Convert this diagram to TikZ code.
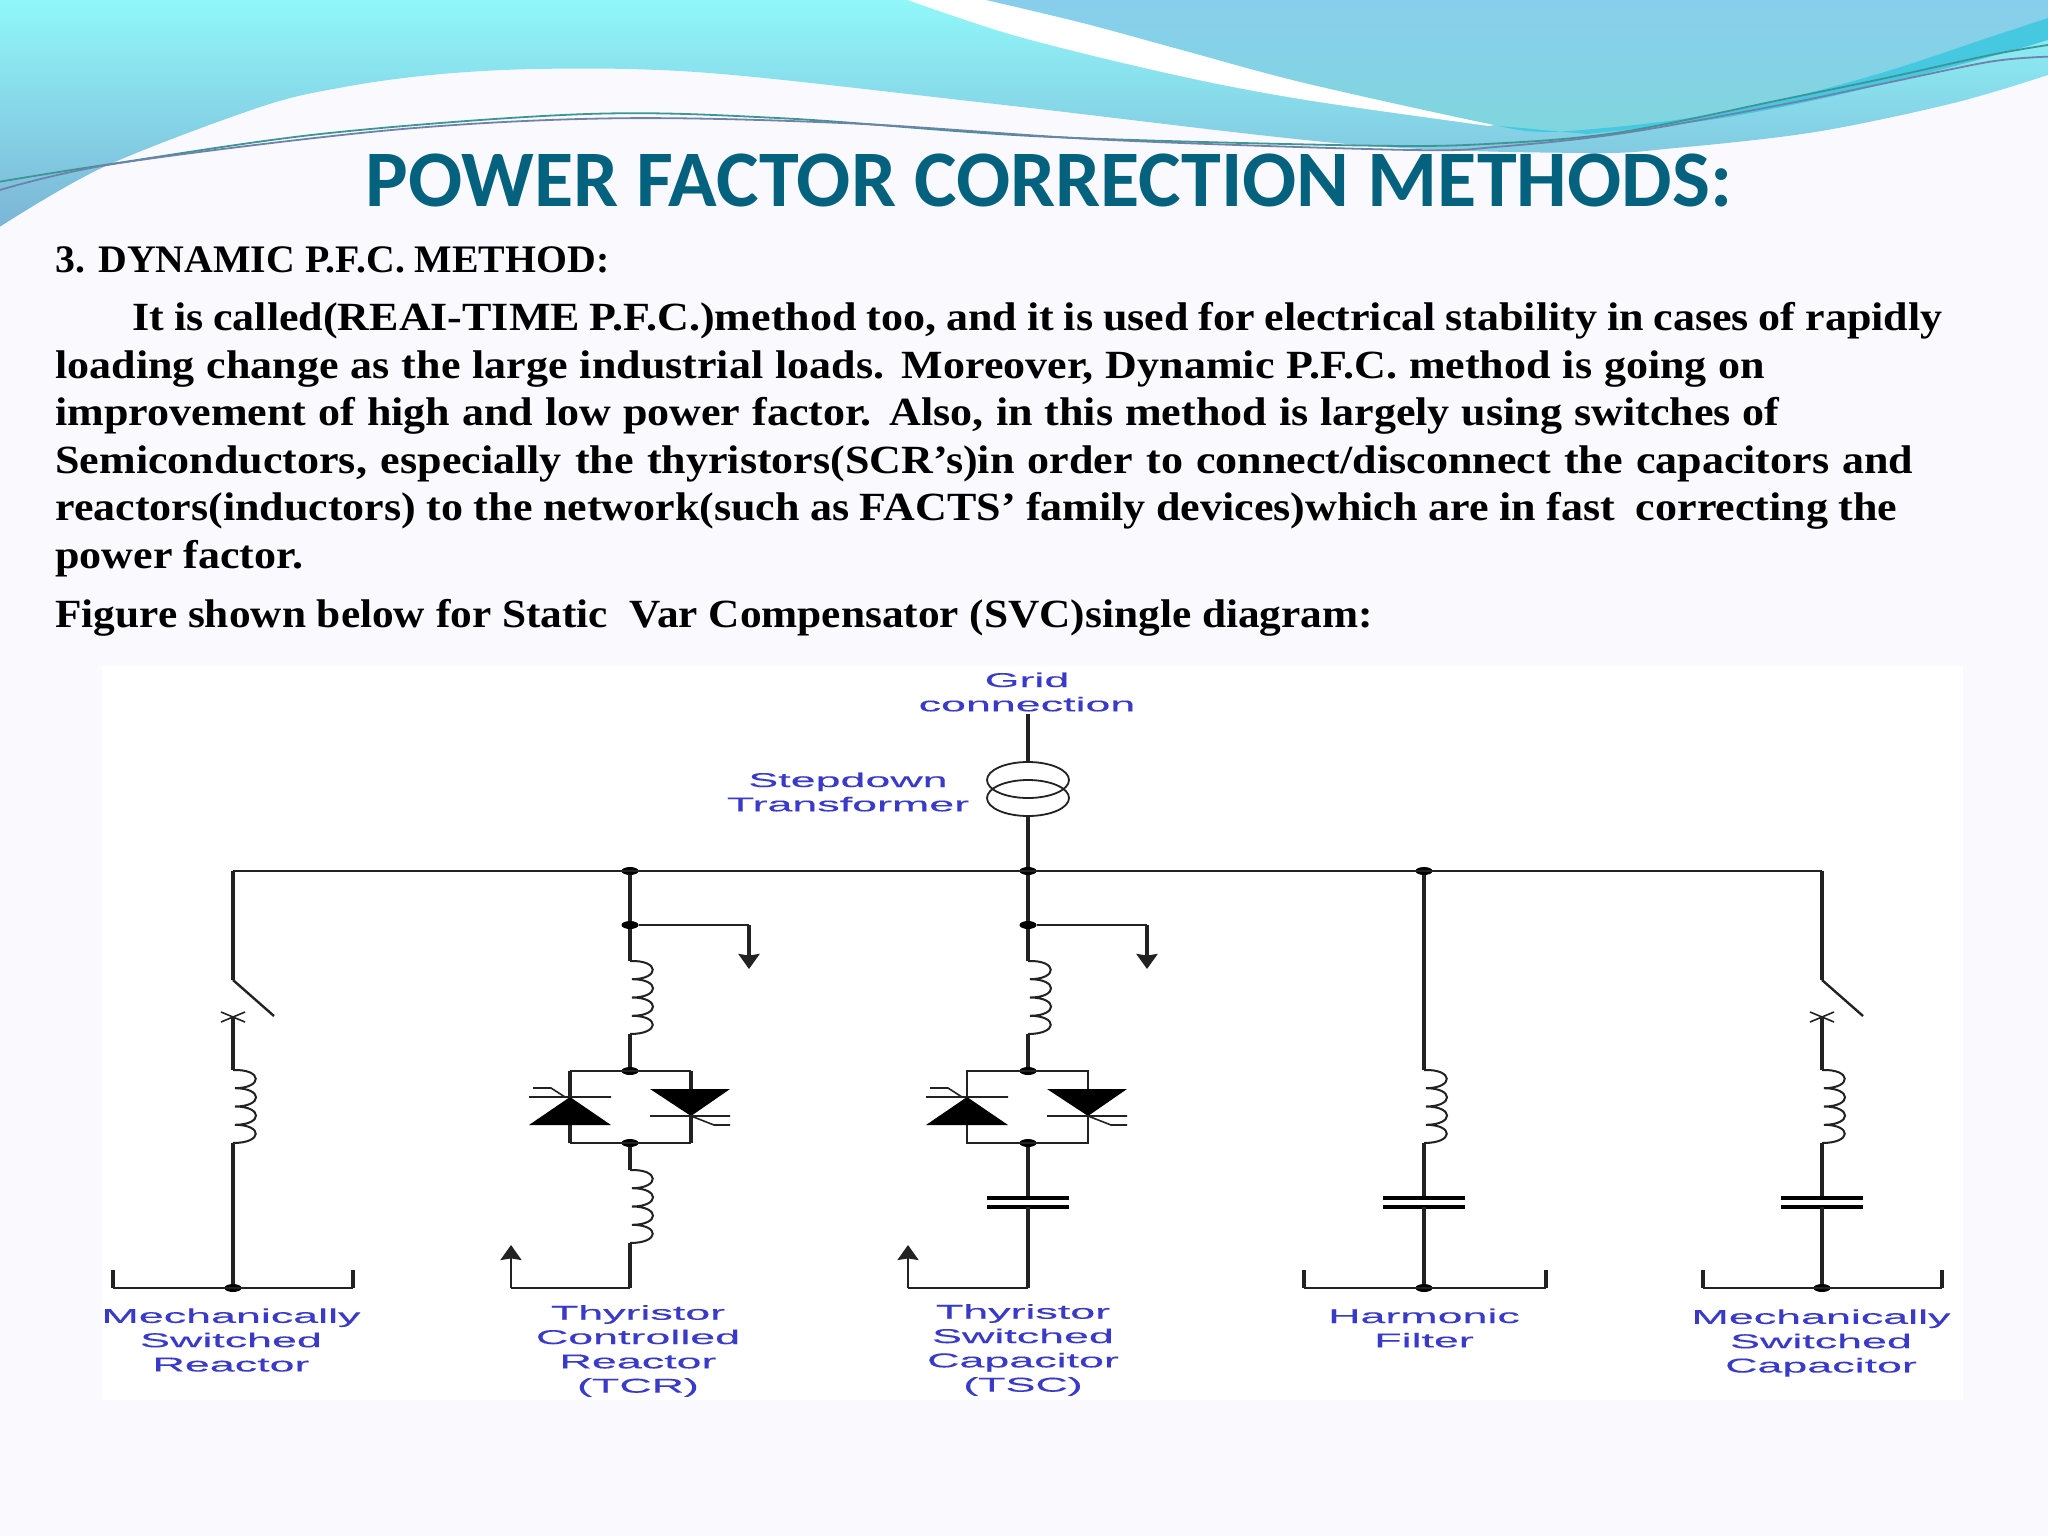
\documentclass[tikz,border=0pt]{standalone}
\usepackage{fontspec}
\usetikzlibrary{shapes.geometric,arrows.meta}
\setmainfont{Liberation Serif}
\newfontfamily\headfont[FakeStretch=1.02]{Liberation Serif}
\newfontfamily\bodyfont[FakeStretch=1.10]{Liberation Serif}
\newfontfamily\figfont[FakeStretch=1.083]{Liberation Serif}
\newfontfamily\titlefont{Carlito}
\newfontfamily\labfont[FakeStretch=2.24,FakeBold=0.3]{Liberation Sans}
\definecolor{pagebg}{HTML}{FAFAFE}
\definecolor{titleblue}{HTML}{05627F}
\definecolor{labblue}{HTML}{3A3AC8}
\definecolor{wire}{HTML}{222222}
\definecolor{cyantop}{RGB}{144,247,249}
\definecolor{cyanbot}{RGB}{124,181,214}
\definecolor{bluetop}{RGB}{136,206,236}
\definecolor{bluebot}{RGB}{128,214,222}
\definecolor{ribbon}{RGB}{70,200,224}
\definecolor{strandA}{RGB}{60,150,150}
\definecolor{strandB}{RGB}{110,130,170}
\tikzset{
  x=0.5pt,y=-0.5pt,
  thick wire/.style={draw=wire,line width=1.9pt},
  thin wire/.style={draw=wire,line width=1.2pt},
  tick wire/.style={draw=wire,line width=1.7pt},
  dot/.style={ellipse,fill=black,inner sep=0pt,minimum width=8.5pt,minimum height=4pt},
  lab/.style={font=\labfont\fontsize{10}{12.15}\selectfont,text=labblue,align=center,inner sep=0pt},
  plate/.style={draw=black,line width=2.4pt},
  arrowtip/.style={-{Stealth[length=7.5pt,width=10.5pt,inset=0.8pt]}},
  trafo/.style={ellipse,draw=wire,line width=0.9pt,inner sep=0pt,minimum width=41pt,minimum height=18pt},
  coil/.pic={\draw[draw=wire,line width=1pt] (0,0) .. controls (30,-1) and (30,18) .. (2,18.2)
      .. controls (30,18.2) and (30,36.4) .. (2,36.5)
      .. controls (30,36.5) and (30,54.7) .. (2,54.8)
      .. controls (30,54.8) and (30,73) .. (0,73);},
  thyup/.pic={\fill[black] (0,0) -- (-41,28) -- (41,28) -- cycle;
      \draw[draw=wire,line width=0.8pt] (-41,0) -- (41,0) (-37,-9) -- (-19,-9) -- (-5,0);},
  thydn/.pic={\fill[black] (0,0) -- (-41,-27) -- (39,-27) -- cycle;
      \draw[draw=wire,line width=0.8pt] (-41,0) -- (39,0) (0,0) -- (23,9) -- (39,9);},
  cross/.pic={\draw[draw=wire,line width=0.8pt] (-12,-5) -- (12,5) (-12,5) -- (12,-5);},
}
\begin{document}
\begin{tikzpicture}
\useasboundingbox (0,0) rectangle (2048,1536);
\fill[pagebg] (0,0) rectangle (2048,1536);
% decorative header, points read in stretched coordinates
\begin{scope}[xscale=1.306,yscale=0.3333]
\shade[top color=cyantop,bottom color=cyanbot]
  plot[smooth,tension=0.55] coordinates {(0,680) (80,500) (200,320) (265,260) (330,225) (400,208) (490,208) (580,232) (780,320) (1040,435) (1215,459) (1283,444) (1390,396) (1496,309) (1568,225)}
  -- (1568,0) -- (0,0) -- cycle;
\fill[white] plot[smooth,tension=0.55] coordinates {(695,0) (780,110) (900,225) (1000,300) (1140,378)}
  -- (1568,54) -- (1568,0) -- cycle;
\shade[top color=bluetop,bottom color=bluebot]
  plot[smooth,tension=0.55] coordinates {(755,0) (830,70) (905,150) (1000,250) (1148,378) (1188,396) (1283,360) (1363,300) (1443,216) (1524,111) (1568,54)}
  -- (1568,0) -- cycle;
\fill[ribbon] plot[smooth,tension=0.55] coordinates {(1148,378) (1188,396) (1283,360) (1363,300) (1443,216) (1524,111) (1568,54)}
  -- plot[smooth,tension=0.55] coordinates {(1568,120) (1537,156) (1470,225) (1390,300) (1309,360) (1215,402)} -- cycle;
\draw[strandA,line width=0.9pt] plot[smooth,tension=0.55] coordinates {(0,545) (80,495) (250,400) (450,342) (600,355) (800,410) (1050,437) (1148,430) (1242,396) (1363,300) (1443,235) (1524,165) (1568,135)};
\draw[strandB,line width=0.9pt] plot[smooth,tension=0.55] coordinates {(0,570) (90,490) (300,390) (470,355) (650,370) (850,420) (1080,450) (1148,440) (1242,400) (1363,315) (1443,250) (1524,185) (1568,170)};
\end{scope}
% title and text
\node[font=\titlefont\bfseries\fontsize{40.1}{44}\selectfont,text=titleblue,anchor=base,inner sep=0pt] (title) at (1049,206) {POWER FACTOR CORRECTION METHODS:};
\node[font=\headfont\bfseries\fontsize{19.5}{22}\selectfont,anchor=base west,inner sep=0pt] (heading) at (55,272) {3. DYNAMIC P.F.C. METHOD:};
\node[font=\bodyfont\bfseries\fontsize{20}{23.8}\selectfont,anchor=north west,inner sep=0pt,align=left] (para) at (55,302) {\hspace*{38.5pt}\makebox[905pt][s]{It is called(REAI-TIME P.F.C.)method too, and it is used for electrical stability in cases of rapidly}\\
\makebox[855pt][s]{loading change as the large industrial loads. Moreover, Dynamic P.F.C. method is going on}\\
\makebox[862pt][s]{improvement of high and low power factor. Also, in this method is largely using switches of}\\
\makebox[929pt][s]{Semiconductors, especially the thyristors(SCR’s)in order to connect/disconnect the capacitors and}\\
\makebox[921pt][s]{reactors(inductors) to the network(such as FACTS’ family devices)which are in fast~~correcting the}\\
power factor.};
\node[font=\figfont\bfseries\fontsize{20}{22}\selectfont,anchor=base west,inner sep=0pt] (figline) at (55,627) {Figure shown below for Static~~Var Compensator (SVC)single diagram:};
% white picture panel
\fill[white] (102,666) rectangle (1963,1400);
% labels
\node[lab] (lgrid) at (1027,692) {Grid\\connection};
\node[lab] (lstep) at (848,792) {Stepdown\\Transformer};
\node[lab] (lmsr) at (231,1340) {Mechanically\\Switched\\Reactor};
\node[lab] (ltcr) at (638,1351) {Thyristor\\Controlled\\Reactor\\(TCR)};
\node[lab] (ltsc) at (1023,1350) {Thyristor\\Switched\\Capacitor\\(TSC)};
\node[lab] (lhf) at (1424,1328) {Harmonic\\Filter};
\node[lab] (lmsc) at (1821,1343) {Mechanically\\Switched\\Capacitor};
% grid and transformer
\coordinate (gridend) at (1028,714);
\node[trafo] (tra) at (1028,780) {};
\node[trafo] (trb) at (1028,798) {};
\coordinate (busl) at (233,871);
\coordinate (busr) at (1822,871);
\node[dot] (hub) at (1028,871) {};
\node[dot] (tcrbus) at (630,871) {};
\node[dot] (hfbus) at (1424,871) {};
\draw[thick wire] (gridend) -- (tra.north);
\draw[thick wire] (trb.south) -- (hub);
\draw[thin wire] (busl) -- (busr);
% mechanically switched reactor
\coordinate (msrsw) at (233,980);
\coordinate (msrblade) at (274,1016);
\coordinate (msrc) at (233,1017);
\coordinate (msrl1) at (233,1070);
\coordinate (msrl2) at (233,1143);
\node[dot] (msrg) at (233,1288) {};
\coordinate (msrgl) at (113,1288);
\coordinate (msrgr) at (353,1288);
\coordinate (msrgl2) at (113,1270);
\coordinate (msrgr2) at (353,1270);
\draw[thick wire] (busl) -- (msrsw);
\draw[thin wire] (msrsw) -- (msrblade);
\pic at (msrc) {cross};
\draw[thick wire] (msrc) -- (msrl1);
\pic at (msrl1) {coil};
\draw[thick wire] (msrl2) -- (msrg);
\draw[thin wire] (msrgl) -- (msrgr);
\draw[tick wire] (msrgl2) -- (msrgl) (msrgr2) -- (msrgr);
% TCR
\node[dot] (tcra) at (630,925) {};
\coordinate (tcrb) at (749,925);
\coordinate (tcrtip) at (749,969);
\coordinate (tcrl1) at (630,961);
\coordinate (tcrl2) at (630,1034);
\node[dot] (tcrt) at (630,1071) {};
\node[dot] (tcru) at (630,1143) {};
\coordinate (tcrtl) at (570,1071);
\coordinate (tcrtr) at (691,1071);
\coordinate (tcrul) at (570,1143);
\coordinate (tcrur) at (691,1143);
\coordinate (tcrm1) at (630,1170);
\coordinate (tcrm2) at (630,1243);
\coordinate (tcrn) at (630,1288);
\coordinate (tcrs) at (511,1288);
\coordinate (tcrup) at (511,1245);
\draw[thick wire] (tcrbus) -- (tcra) -- (tcrl1);
\draw[thin wire] (tcra) -- (tcrb);
\draw[tick wire,arrowtip] (tcrb) -- (tcrtip);
\pic at (tcrl1) {coil};
\draw[thick wire] (tcrl2) -- (tcrt);
\draw[thin wire] (tcrtl) -- (tcrtr) (tcrul) -- (tcrur);
\draw[tick wire] (tcrtl) -- (tcrul) (tcrtr) -- (tcrur);
\pic at (570,1097) {thyup};
\pic at (691,1116) {thydn};
\draw[thick wire] (tcru) -- (tcrm1);
\pic at (tcrm1) {coil};
\draw[thick wire] (tcrm2) -- (tcrn);
\draw[thin wire] (tcrn) -- (tcrs);
\draw[thin wire,arrowtip] (tcrs) -- (tcrup);
% TSC
\node[dot] (tsca) at (1028,925) {};
\coordinate (tscb) at (1147,925);
\coordinate (tsctip) at (1147,969);
\coordinate (tscl1) at (1028,961);
\coordinate (tscl2) at (1028,1034);
\node[dot] (tsct) at (1028,1071) {};
\node[dot] (tscu) at (1028,1143) {};
\coordinate (tsctl) at (967,1071);
\coordinate (tsctr) at (1088,1071);
\coordinate (tscul) at (967,1143);
\coordinate (tscur) at (1088,1143);
\coordinate (tscc1) at (1028,1198);
\coordinate (tscc2) at (1028,1207);
\coordinate (tscn) at (1028,1288);
\coordinate (tscs) at (908,1288);
\coordinate (tscup) at (908,1245);
\draw[thick wire] (hub) -- (tsca) -- (tscl1);
\draw[thin wire] (tsca) -- (tscb);
\draw[tick wire,arrowtip] (tscb) -- (tsctip);
\pic at (tscl1) {coil};
\draw[thick wire] (tscl2) -- (tsct);
\draw[thin wire] (tscul) -- (tsctl) -- (tsctr) -- (tscur) -- cycle;
\pic at (967,1097) {thyup};
\pic at (1088,1116) {thydn};
\draw[thick wire] (tscu) -- (tscc1);
\draw[plate] (987,1198) -- (1069,1198);
\draw[plate] (987,1207) -- (1069,1207);
\draw[thick wire] (tscc2) -- (tscn);
\draw[thin wire] (tscn) -- (tscs);
\draw[thin wire,arrowtip] (tscs) -- (tscup);
% harmonic filter
\coordinate (hfl1) at (1424,1070);
\coordinate (hfl2) at (1424,1143);
\coordinate (hfc1) at (1424,1198);
\coordinate (hfc2) at (1424,1207);
\node[dot] (hfg) at (1424,1288) {};
\coordinate (hfgl) at (1304,1288);
\coordinate (hfgr) at (1546,1288);
\coordinate (hfgl2) at (1304,1270);
\coordinate (hfgr2) at (1546,1270);
\draw[thick wire] (hfbus) -- (hfl1);
\pic at (hfl1) {coil};
\draw[thick wire] (hfl2) -- (hfc1);
\draw[plate] (1383,1198) -- (1465,1198);
\draw[plate] (1383,1207) -- (1465,1207);
\draw[thick wire] (hfc2) -- (hfg);
\draw[thin wire] (hfgl) -- (hfgr);
\draw[tick wire] (hfgl2) -- (hfgl) (hfgr2) -- (hfgr);
% mechanically switched capacitor
\coordinate (mscsw) at (1822,980);
\coordinate (mscblade) at (1863,1016);
\coordinate (mscc) at (1822,1017);
\coordinate (mscl1) at (1822,1070);
\coordinate (mscl2) at (1822,1143);
\coordinate (mscc1) at (1822,1198);
\coordinate (mscc2) at (1822,1207);
\node[dot] (mscg) at (1822,1288) {};
\coordinate (mscgl) at (1703,1288);
\coordinate (mscgr) at (1942,1288);
\coordinate (mscgl2) at (1703,1270);
\coordinate (mscgr2) at (1942,1270);
\draw[thick wire] (busr) -- (mscsw);
\draw[thin wire] (mscsw) -- (mscblade);
\pic at (mscc) {cross};
\draw[thick wire] (mscc) -- (mscl1);
\pic at (mscl1) {coil};
\draw[thick wire] (mscl2) -- (mscc1);
\draw[plate] (1781,1198) -- (1863,1198);
\draw[plate] (1781,1207) -- (1863,1207);
\draw[thick wire] (mscc2) -- (mscg);
\draw[thin wire] (mscgl) -- (mscgr);
\draw[tick wire] (mscgl2) -- (mscgl) (mscgr2) -- (mscgr);
\end{tikzpicture}
\end{document}
